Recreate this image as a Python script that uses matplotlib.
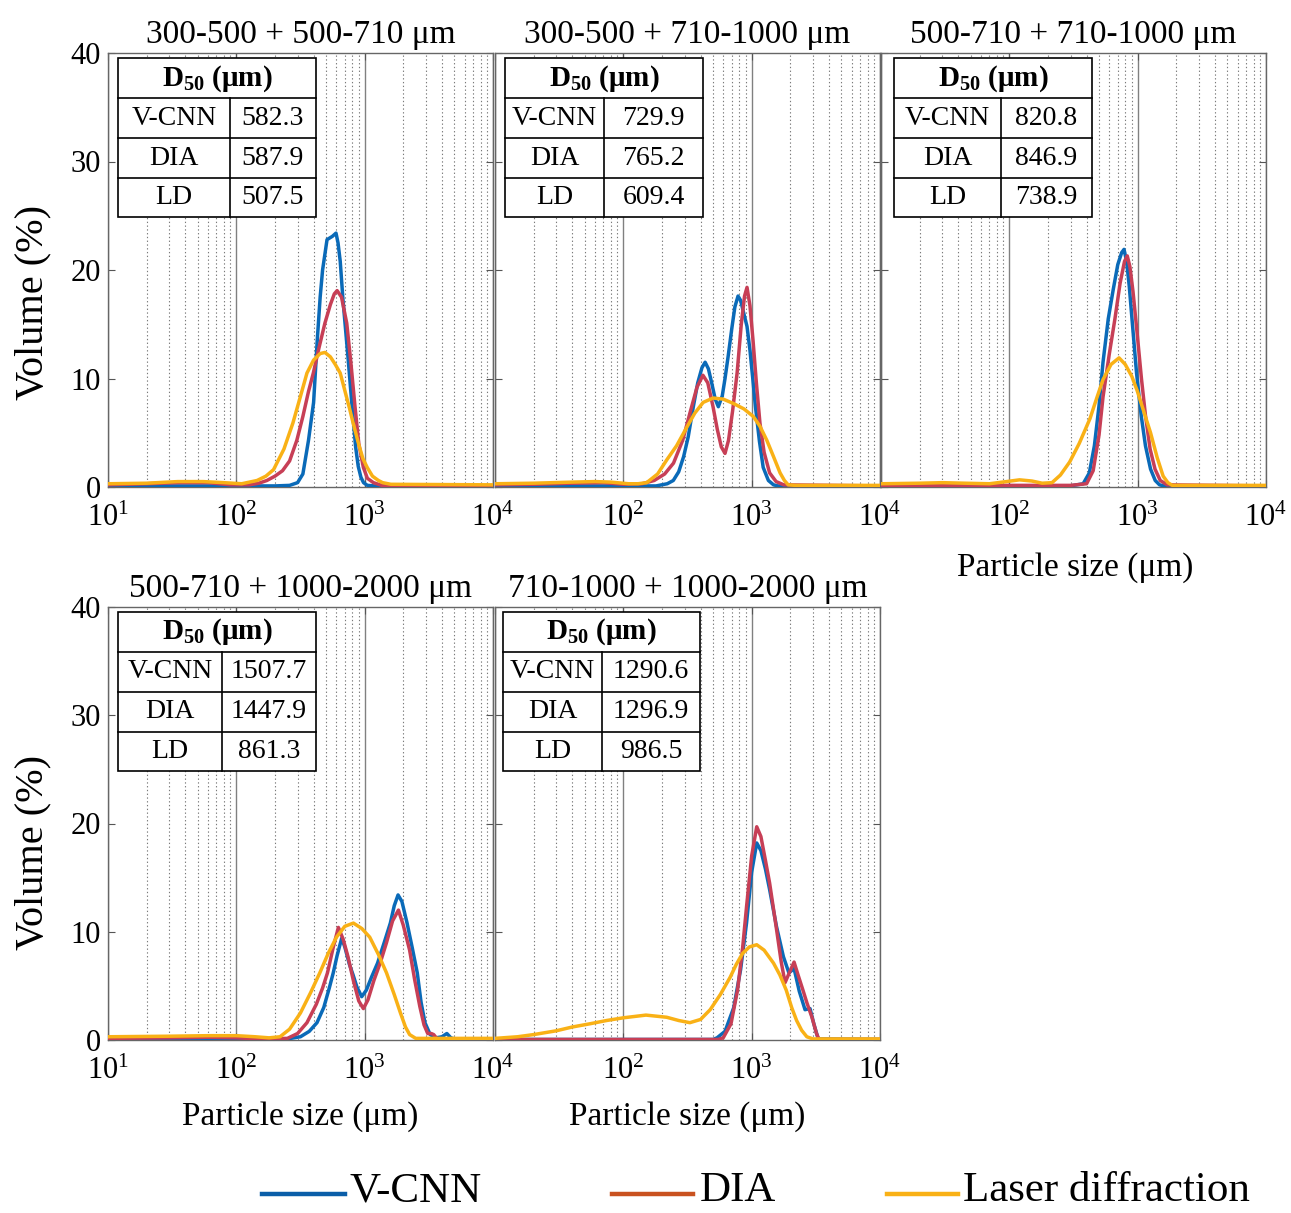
import numpy as np
import matplotlib
matplotlib.use('Agg')
import matplotlib.pyplot as plt
from matplotlib.lines import Line2D
from matplotlib.patches import Rectangle

plt.rcParams['font.family'] = ['Liberation Serif', 'DejaVu Serif']
plt.rcParams['mathtext.fontset'] = 'custom'
plt.rcParams['mathtext.rm'] = 'Liberation Serif'
plt.rcParams['mathtext.it'] = 'Liberation Serif:italic'
plt.rcParams['mathtext.bf'] = 'Liberation Serif:bold'

p1_vcnn = [(10, 0.1), (200, 0.1), (260, 0.15), (300, 0.4), (330, 1.2), (365, 4.3), (400, 7.8), (427, 13.5),
           (450, 17.5), (470, 20.0), (509, 22.8), (560, 23.1), (598, 23.4), (620, 22.5), (645, 20.8),
           (678, 17.2), (710, 14.5), (741, 12.0), (780, 8.8), (813, 6.3), (850, 3.7), (891, 1.9),
           (935, 0.9), (980, 0.4), (1050, 0.15), (1200, 0.1), (10000, 0.1)]
p1_dia = [(10, 0.2), (20, 0.3), (35, 0.4), (60, 0.4), (90, 0.2), (126, 0.2), (150, 0.35), (173, 0.6),
          (200, 1.0), (229, 1.5), (260, 2.4), (296, 4.3), (330, 6.5), (365, 8.8), (398, 10.5), (440, 12.8),
          (490, 15.1), (540, 16.8), (580, 17.8), (610, 18.1), (660, 17.5), (725, 15.1), (780, 11.5),
          (841, 7.4), (900, 4.0), (977, 1.8), (1050, 0.8), (1170, 0.4), (1400, 0.1), (10000, 0.1)]
p1_ld = [(10, 0.3), (20, 0.35), (35, 0.5), (55, 0.5), (80, 0.4), (110, 0.3), (145, 0.6), (170, 1.0),
         (195, 1.6), (235, 3.5), (276, 5.9), (315, 8.3), (355, 10.5), (400, 11.7), (450, 12.3), (490, 12.4),
         (540, 12.0), (590, 11.3), (645, 10.5), (700, 8.9), (760, 7.3), (813, 5.9), (900, 3.9), (970, 2.6),
         (1047, 1.8), (1150, 1.0), (1280, 0.6), (1380, 0.4), (1600, 0.25), (10000, 0.2)]

p2_vcnn = [(10, 0.1), (180, 0.1), (220, 0.3), (245, 0.6), (270, 1.4), (295, 2.8), (320, 4.6), (351, 7.4),
           (380, 9.6), (410, 11.0), (434, 11.5), (460, 10.9), (490, 9.5), (520, 8.1), (550, 7.4), (590, 8.4),
           (620, 10.0), (655, 12.0), (700, 14.6), (740, 16.6), (783, 17.6), (820, 17.2), (860, 16.2),
           (920, 14.8), (970, 12.6), (1020, 10.0), (1070, 7.4), (1150, 4.2), (1230, 1.8), (1350, 0.6),
           (1480, 0.2), (1600, 0.1), (10000, 0.1)]
p2_dia = [(10, 0.2), (20, 0.25), (40, 0.35), (70, 0.4), (100, 0.25), (140, 0.3), (174, 0.6), (210, 1.2),
          (246, 2.2), (290, 4.3), (330, 6.8), (375, 9.2), (417, 10.3), (455, 9.6), (500, 7.4), (540, 5.3),
          (580, 3.7), (620, 3.1), (660, 4.3), (710, 7.0), (770, 10.5), (830, 15.0), (880, 17.6), (920, 18.4),
          (970, 16.7), (1025, 13.5), (1090, 9.5), (1160, 5.9), (1250, 3.2), (1380, 1.3), (1550, 0.5),
          (1780, 0.2), (10000, 0.1)]
p2_ld = [(10, 0.3), (20, 0.35), (40, 0.45), (60, 0.5), (80, 0.45), (110, 0.3), (130, 0.3), (152, 0.4),
         (185, 1.2), (218, 2.5), (260, 3.8), (312, 5.5), (360, 6.8), (419, 7.8), (501, 8.2), (600, 8.1),
         (720, 7.7), (870, 7.2), (1030, 6.5), (1160, 5.6), (1313, 4.3), (1480, 2.8), (1665, 1.3),
         (1800, 0.6), (1925, 0.2), (2200, 0.15), (10000, 0.15)]

p3_vcnn = [(10, 0.1), (300, 0.1), (376, 0.3), (420, 1.3), (460, 3.8), (500, 7.5), (537, 11.5), (590, 15.5),
           (645, 18.2), (700, 20.5), (750, 21.6), (783, 21.9), (820, 20.8), (860, 18.5), (912, 14.9),
           (980, 10.5), (1065, 6.6), (1150, 3.8), (1260, 1.65), (1370, 0.6), (1480, 0.2), (1600, 0.1),
           (10000, 0.1)]
p3_dia = [(10, 0.15), (300, 0.15), (400, 0.3), (450, 1.5), (500, 4.8), (537, 8.3), (600, 12.2), (665, 15.5),
          (730, 18.8), (790, 20.8), (830, 21.3), (870, 20.3), (920, 18.0), (990, 14.2), (1070, 10.0),
          (1150, 6.6), (1250, 3.5), (1365, 1.65), (1500, 0.6), (1700, 0.2), (10000, 0.1)]
p3_ld = [(10, 0.3), (20, 0.35), (30, 0.4), (45, 0.35), (70, 0.3), (95, 0.5), (120, 0.66), (150, 0.55),
         (180, 0.35), (215, 0.4), (250, 1.1), (295, 2.3), (350, 4.0), (425, 6.3), (480, 8.2), (537, 9.9),
         (620, 11.3), (716, 11.9), (800, 11.3), (900, 10.2), (990, 8.9), (1120, 6.9), (1260, 5.0),
         (1420, 2.7), (1580, 1.0), (1720, 0.4), (1860, 0.15), (10000, 0.15)]

p4_vcnn = [(10, 0.1), (250, 0.1), (316, 0.3), (370, 0.8), (425, 1.6), (480, 3.0), (530, 4.8), (569, 6.2),
           (610, 7.8), (662, 9.4), (700, 8.6), (760, 7.0), (813, 6.0), (870, 4.9), (948, 4.0), (1030, 4.6),
           (1130, 5.8), (1260, 7.1), (1420, 9.0), (1585, 10.8), (1700, 12.4), (1820, 13.4), (1950, 12.8),
           (2140, 10.8), (2350, 8.5), (2570, 6.2), (2750, 3.5), (2950, 1.6), (3240, 0.5), (3600, 0.2),
           (4000, 0.3), (4370, 0.6), (4700, 0.2), (5000, 0.1), (10000, 0.1)]
p4_dia = [(10, 0.15), (30, 0.2), (60, 0.25), (100, 0.2), (150, 0.1), (250, 0.15), (300, 0.6), (355, 1.6),
          (420, 3.3), (470, 4.8), (513, 6.2), (570, 8.6), (624, 10.4), (680, 9.3), (741, 7.7), (820, 5.4),
          (900, 3.6), (977, 2.9), (1060, 3.7), (1180, 5.5), (1320, 7.1), (1480, 9.0), (1650, 11.0),
          (1833, 12.0), (2000, 10.6), (2240, 8.3), (2450, 5.6), (2690, 3.1), (2900, 1.4), (3100, 0.6),
          (3300, 0.6), (3450, 0.5), (3700, 0.05), (10000, 0.05)]
p4_ld = [(10, 0.3), (30, 0.35), (60, 0.4), (100, 0.4), (140, 0.3), (180, 0.2), (219, 0.3), (260, 1.0),
         (316, 2.5), (380, 4.4), (447, 6.2), (520, 8.0), (603, 9.5), (700, 10.5), (817, 10.8), (950, 10.3),
         (1095, 9.5), (1280, 7.9), (1480, 6.2), (1700, 4.2), (1900, 2.5), (2080, 1.2), (2240, 0.5),
         (2500, 0.15), (10000, 0.15)]

p5_vcnn = [(10, 0.05), (500, 0.05), (537, 0.2), (620, 0.8), (725, 3.0), (820, 6.5), (912, 10.8), (1000, 15.5),
           (1095, 18.2), (1180, 17.5), (1280, 15.8), (1380, 13.9), (1560, 10.5), (1767, 7.7), (1950, 6.2),
           (2140, 6.6), (2350, 4.5), (2605, 2.8), (2850, 2.9), (3050, 1.5), (3300, 0.1), (10000, 0.05)]
p5_dia = [(10, 0.05), (550, 0.05), (600, 0.2), (690, 1.5), (776, 4.6), (850, 8.5), (912, 12.3), (1000, 17.0),
          (1095, 19.7), (1180, 18.8), (1280, 16.6), (1380, 14.5), (1550, 10.5), (1700, 7.2), (1820, 5.3),
          (1980, 6.3), (2140, 7.2), (2300, 6.0), (2510, 4.6), (2700, 3.4), (2950, 2.1), (3200, 0.6),
          (3390, -0.1), (3600, 0.05), (10000, 0.05)]
p5_ld = [(10, 0.15), (15, 0.3), (20, 0.5), (30, 0.85), (40, 1.2), (55, 1.5), (74, 1.8), (100, 2.05),
         (150, 2.3), (218, 2.1), (270, 1.8), (330, 1.6), (400, 1.9), (475, 2.8), (570, 4.2), (680, 5.8),
         (760, 7.0), (850, 8.0), (960, 8.6), (1095, 8.8), (1250, 8.3), (1480, 7.1), (1660, 6.0), (1860, 4.6),
         (2050, 3.0), (2240, 1.8), (2450, 0.9), (2690, 0.3), (3000, 0.1), (10000, 0.1)]

titles = ['300-500 + 500-710 μm', '300-500 + 710-1000 μm', '500-710 + 710-1000 μm',
          '500-710 + 1000-2000 μm', '710-1000 + 1000-2000 μm']
methods = ['V-CNN', 'DIA', 'LD']
d50_vcnn = [582.3, 729.9, 820.8, 1507.7, 1290.6]
d50_dia = [587.9, 765.2, 846.9, 1447.9, 1296.9]
d50_ld = [507.5, 609.4, 738.9, 861.3, 986.5]
legend_names = ['V-CNN', 'DIA', 'Laser diffraction']

curves = [(p1_vcnn, p1_dia, p1_ld), (p2_vcnn, p2_dia, p2_ld), (p3_vcnn, p3_dia, p3_ld),
          (p4_vcnn, p4_dia, p4_ld), (p5_vcnn, p5_dia, p5_ld)]

line_colors = ['#0a6ab8', '#c73f56', '#f9b116']
legend_colors = ['#0b5ea8', '#c9521f', '#f9b116']

W, H = 1291, 1213
fig = plt.figure(figsize=(W / 100, H / 100), dpi=100)

# axes boxes in pixels: left, top, right, bottom
boxes = [(108, 53, 493, 487), (495, 53, 880, 487), (881, 53, 1266, 487),
         (108, 607, 493, 1040), (495, 607, 880, 1040)]
# table geometry (axes fraction): x0, x1, column split, y levels
tab_x = [(0.026, 0.540, 0.317), (0.026, 0.540, 0.283), (0.034, 0.548, 0.312),
         (0.026, 0.540, 0.296), (0.021, 0.532, 0.278)]
tab_y = [0.988, 0.896, 0.804, 0.712, 0.622]

for i, (l, t, r, b) in enumerate(boxes):
    ax = fig.add_axes([l / W, 1 - b / H, (r - l) / W, (b - t) / H])
    for data, c in zip(curves[i], line_colors):
        xs, ys = np.array(data).T
        ax.plot(xs, ys, color=c, lw=2.5, solid_joinstyle='round', zorder=3)
    ax.set_xscale('log')
    ax.set_xlim(10, 10000)
    ax.set_ylim(0, 40)
    ax.set_yticks([0, 10, 20, 30, 40])
    ax.set_xticks([10, 100, 1000, 10000])
    xl = ['$10^{1}$', '$10^{2}$', '$10^{3}$', '$10^{4}$']
    if i in (1, 2, 4):
        xl[0] = ''
    ax.set_xticklabels(xl)
    if i in (0, 3):
        ax.tick_params(axis='y', labelsize=22, pad=5)
    else:
        ax.set_yticklabels([])
    ax.tick_params(axis='x', labelsize=22, pad=12)
    ax.tick_params(which='both', direction='in', top=True, right=True, length=5, color='#555555')
    ax.tick_params(which='minor', length=0)
    ax.grid(True, which='major', axis='x', color='#808080', lw=1.0, ls='-')
    ax.grid(True, which='minor', axis='x', color='#7a7a7a', lw=0.8, ls=(0, (1.2, 2.2)))
    ax.set_axisbelow(True)
    for s in ax.spines.values():
        s.set_color('#666666')
        s.set_linewidth(1.0)
    ax.set_title(titles[i], fontsize=24, pad=7)

    # D50 table
    x0, x1, xs_ = tab_x[i]
    ax.add_patch(Rectangle((x0, tab_y[-1]), x1 - x0, tab_y[0] - tab_y[-1], transform=ax.transAxes,
                           facecolor='white', edgecolor='black', lw=1.2, zorder=5))
    for yy in tab_y[1:-1]:
        ax.add_artist(Line2D([x0, x1], [yy, yy], transform=ax.transAxes, color='black', lw=1.2, zorder=6))
    ax.add_artist(Line2D([xs_, xs_], [tab_y[-1], tab_y[1]], transform=ax.transAxes, color='black', lw=1.2, zorder=6))
    ax.text((x0 + x1) / 2, (tab_y[0] + tab_y[1]) / 2, r'$\mathbf{D}_{\mathbf{50}}$ (μm)', weight='bold',
            fontsize=21, ha='center', va='center', transform=ax.transAxes, zorder=7)
    vals = [d50_vcnn[i], d50_dia[i], d50_ld[i]]
    for k, (name, v) in enumerate(zip(methods, vals)):
        yc = (tab_y[k + 1] + tab_y[k + 2]) / 2
        ax.text((x0 + xs_) / 2, yc, name, fontsize=20, ha='center', va='center', transform=ax.transAxes, zorder=7)
        ax.text((xs_ + x1) / 2, yc, f'{v:.1f}', fontsize=20, ha='center', va='center', transform=ax.transAxes, zorder=7)

# axis labels
fig.text(33 / W, 1 - 302 / H, 'Volume (%)', rotation=90, fontsize=29, ha='center', va='center')
fig.text(33 / W, 1 - 853 / H, 'Volume (%)', rotation=90, fontsize=29, ha='center', va='center')
fig.text(1075 / W, 1 - 568 / H, 'Particle size (μm)', fontsize=24, ha='center', va='center')
fig.text(300 / W, 1 - 1117 / H, 'Particle size (μm)', fontsize=24, ha='center', va='center')
fig.text(687 / W, 1 - 1117 / H, 'Particle size (μm)', fontsize=24, ha='center', va='center')

# legend along the bottom
leg_pos = [(262, 345, 350), (612, 693, 700), (887, 958, 963)]
for (a, b_, tx), name, c in zip(leg_pos, legend_names, legend_colors):
    fig.add_artist(Line2D([a / W, b_ / W], [1 - 1194 / H, 1 - 1194 / H], transform=fig.transFigure,
                          color=c, lw=3.2))
    fig.text(tx / W, 1 - 1191 / H, name, fontsize=31, ha='left', va='center')

fig.savefig('out.png', dpi=100, facecolor='white')
